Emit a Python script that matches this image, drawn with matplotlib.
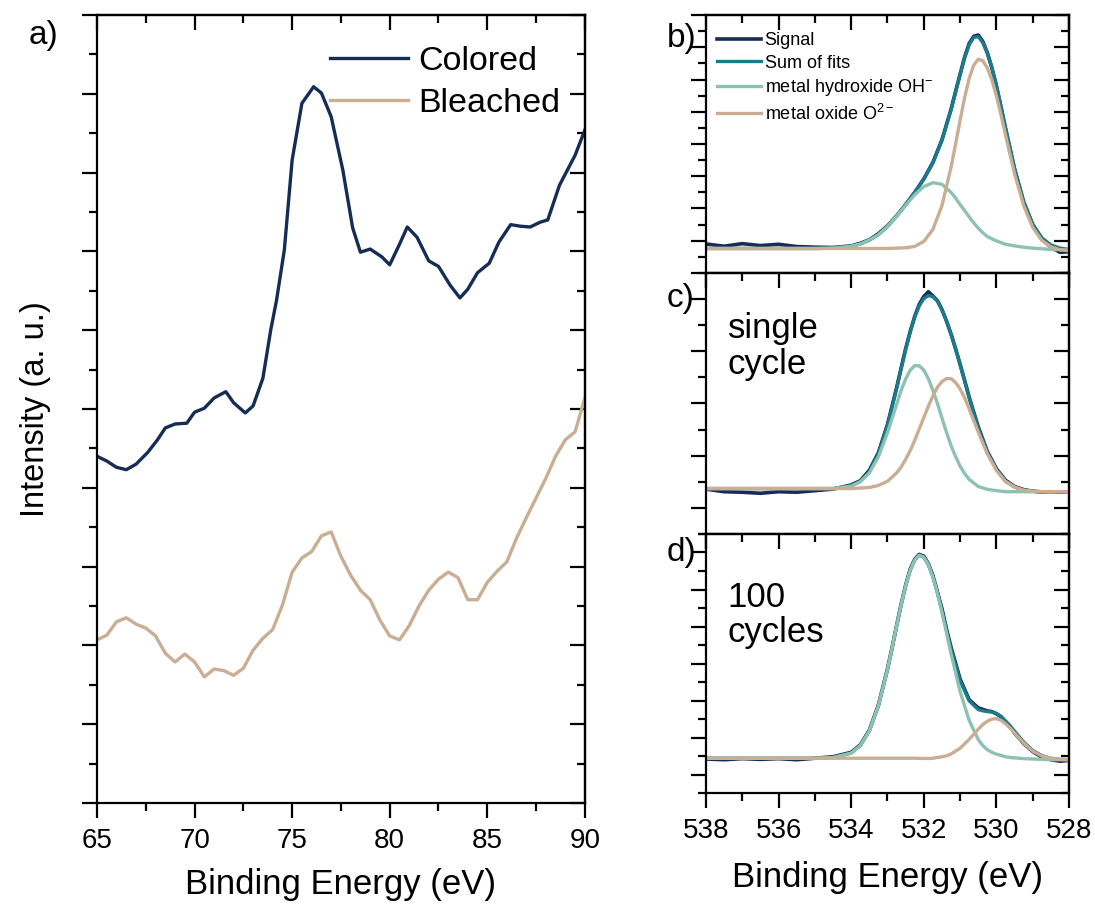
import numpy as np
import matplotlib.pyplot as plt
from matplotlib.ticker import MultipleLocator

plt.rcParams['font.family'] = ['Liberation Sans', 'DejaVu Sans']
plt.rcParams['mathtext.default'] = 'regular'

NAVY = '#152c57'
TEAL = '#1a7b8c'
SAGE = '#8dc2b0'
TAN = '#c9ae94'

# --- a) valence region, colored vs bleached ---
be_a = [65.0, 65.5, 66.0, 66.5, 67.0, 67.6, 68.1, 68.5, 69.0, 69.6, 70.0, 70.5, 71.0,
        71.6, 72.0, 72.6, 73.0, 73.5, 73.9, 74.2, 74.6, 75.0, 75.5, 76.1, 76.5, 77.0,
        77.6, 78.1, 78.5, 79.0, 79.6, 80.0, 80.5, 80.9, 81.4, 82.0, 82.5, 83.1, 83.6,
        84.0, 84.5, 85.1, 85.6, 86.2, 86.7, 87.2, 87.7, 88.1, 88.7, 89.5, 90.0]
colored = [4.40, 4.34, 4.26, 4.23, 4.30, 4.45, 4.61, 4.76, 4.81, 4.82, 4.96, 5.01, 5.14,
           5.22, 5.08, 4.95, 5.04, 5.39, 6.00, 6.38, 7.02, 8.16, 8.88, 9.09, 9.01, 8.71,
           8.03, 7.30, 6.99, 7.03, 6.93, 6.83, 7.09, 7.31, 7.18, 6.88, 6.81, 6.57, 6.41,
           6.52, 6.73, 6.85, 7.12, 7.34, 7.32, 7.31, 7.37, 7.40, 7.84, 8.22, 8.54]

be_bl = [65.0, 65.5, 66.0, 66.5, 67.0, 67.5, 68.0, 68.5, 69.0, 69.5, 70.0, 70.5, 71.0,
         71.5, 72.0, 72.5, 73.0, 73.5, 74.0, 74.5, 75.0, 75.5, 76.0, 76.5, 77.0, 77.5,
         78.0, 78.5, 79.0, 79.5, 80.0, 80.5, 81.0, 81.5, 82.0, 82.5, 83.0, 83.5, 84.0,
         84.5, 85.0, 85.5, 86.0, 86.5, 87.0, 87.5, 88.0, 88.5, 89.0, 89.5, 90.0]
bleached = [2.07, 2.13, 2.30, 2.35, 2.27, 2.22, 2.12, 1.90, 1.79, 1.89, 1.79, 1.60, 1.70,
            1.68, 1.62, 1.71, 1.94, 2.09, 2.20, 2.51, 2.93, 3.11, 3.19, 3.39, 3.44, 3.13,
            2.89, 2.70, 2.58, 2.32, 2.12, 2.07, 2.25, 2.50, 2.70, 2.84, 2.93, 2.86, 2.58,
            2.58, 2.80, 2.94, 3.06, 3.36, 3.62, 3.87, 4.12, 4.40, 4.61, 4.71, 5.14]

# --- b) O 1s, as deposited ---
be_b = [538, 537.5, 537, 536.5, 536, 535.5, 535, 534.5, 534, 533.75, 533.5, 533.25,
        533, 532.75, 532.5, 532.25, 532, 531.75, 531.5, 531.25, 531.125, 531, 530.875,
        530.75, 530.625, 530.5, 530.375, 530.25, 530.125, 530, 529.875, 529.75, 529.5,
        529.25, 529, 528.75, 528.5, 528.25, 528]
bg_b = ([0.76] * 15 + [0.755, 0.75, 0.74, 0.73, 0.72, 0.715, 0.71, 0.705, 0.70, 0.695,
                       0.69, 0.685, 0.68, 0.678, 0.675, 0.672] + [0.67] * 8)
oh_b = [0, 0, 0, 0, 0, 0, 0, 0.01, 0.07, 0.14, 0.26, 0.43, 0.68, 1.00, 1.34, 1.67,
        1.93, 2.06, 2.02, 1.78, 1.61, 1.41, 1.23, 1.04, 0.86, 0.70, 0.56, 0.45, 0.38,
        0.32, 0.27, 0.22, 0.17, 0.13, 0.10, 0.08, 0.06, 0.05, 0.04]
ox_b = [0] * 13 + [0.01, 0.02, 0.07, 0.23, 0.61, 1.36, 2.56, 3.28, 4.03, 4.74, 5.34,
                   5.75, 5.94, 5.90, 5.68, 5.31, 4.81, 4.23, 3.61, 2.40, 1.42, 0.74,
                   0.34, 0.14, 0.05, 0.02]
sig_b = [0.90, 0.83, 0.91, 0.85, 0.89, 0.82, 0.80, 0.79, 0.84, 0.92, 1.03, 1.22, 1.46,
         1.77, 2.12, 2.50, 2.92, 3.43, 4.13, 5.08, 5.63, 6.17, 6.70, 7.12, 7.34, 7.38,
         7.18, 6.83, 6.36, 5.80, 5.15, 4.48, 3.22, 2.20, 1.50, 1.06, 0.80, 0.64, 0.66]

# --- c) O 1s, single cycle ---
be_c = [538, 537.5, 537, 536.5, 536, 535.5, 535, 534.5, 534, 533.75, 533.5, 533.25,
        533, 532.75, 532.625, 532.5, 532.375, 532.25, 532.125, 532, 531.875, 531.75,
        531.625, 531.5, 531.375, 531.25, 531.125, 531, 530.875, 530.75, 530.5, 530.25,
        530, 529.75, 529.5, 529.25, 529, 528.75, 528.5, 528.25, 528]
bg_c = ([0.37] * 16 + [0.367, 0.365, 0.362, 0.36, 0.357, 0.355, 0.352, 0.35, 0.347,
                       0.345, 0.342, 0.34, 0.337, 0.335, 0.33, 0.325, 0.32] + [0.31] * 8)
oh_c = [0] * 8 + [0.05, 0.13, 0.30, 0.61, 1.07, 1.61, 1.88, 2.10, 2.27, 2.36, 2.36,
                  2.28, 2.12, 1.90, 1.65, 1.37, 1.10, 0.85, 0.64, 0.46, 0.32, 0.21,
                  0.08, 0.03, 0.01] + [0] * 8
ox_c = [0] * 9 + [0.01, 0.02, 0.06, 0.14, 0.30, 0.41, 0.56, 0.73, 0.93, 1.15, 1.37,
                  1.59, 1.79, 1.96, 2.07, 2.13, 2.13, 2.06, 1.94, 1.77, 1.56, 1.12,
                  0.71, 0.40, 0.20, 0.09, 0.03, 0.01, 0, 0, 0, 0]
sig_c = [0.36, 0.31, 0.30, 0.28, 0.31, 0.30, 0.33, 0.36, 0.44, 0.52, 0.72, 1.06, 1.60,
         2.30, 2.68, 3.05, 3.38, 3.67, 3.90, 4.05, 4.14, 4.06, 3.97, 3.80, 3.58, 3.33,
         3.05, 2.75, 2.44, 2.12, 1.55, 1.08, 0.75, 0.53, 0.41, 0.35, 0.32, 0.30, 0.31,
         0.30, 0.31]

# --- d) O 1s, 100 cycles ---
be_d = [538, 537.5, 537, 536.5, 536, 535.5, 535, 534.5, 534, 533.75, 533.5, 533.25,
        533, 532.875, 532.75, 532.625, 532.5, 532.375, 532.25, 532.125, 532, 531.875,
        531.75, 531.625, 531.5, 531.375, 531.25, 531, 530.75, 530.5, 530.375, 530.25,
        530.125, 530, 529.875, 529.75, 529.625, 529.5, 529.25, 529, 528.75, 528.5,
        528.25, 528]
bg_d = ([0.44] * 19 + [0.437, 0.435, 0.432, 0.43, 0.43, 0.43, 0.427, 0.425, 0.42, 0.42,
                       0.415, 0.412, 0.41, 0.41, 0.41, 0.405] + [0.40] * 9)
oh_d = [0] * 6 + [0, 0.02, 0.14, 0.34, 0.74, 1.42, 2.40, 2.97, 3.57, 4.14, 4.66, 5.08,
                  5.36, 5.49, 5.44, 5.24, 4.91, 4.47, 3.95, 3.40, 2.84, 1.82, 1.04,
                  0.53, 0.37, 0.26, 0.19, 0.14, 0.11, 0.08, 0.06, 0.05, 0.03, 0.02,
                  0.01, 0, 0, 0]
ox_d = [0] * 22 + [0.01, 0.03, 0.05, 0.08, 0.13, 0.29, 0.53, 0.81, 0.94, 1.03, 1.09,
                   1.10, 1.06, 0.97, 0.86, 0.72, 0.45, 0.23, 0.10, 0.04, 0.01, 0]
sig_d = [0.42, 0.40, 0.43, 0.41, 0.43, 0.40, 0.44, 0.48, 0.60, 0.80, 1.20, 1.88, 2.86,
         3.42, 4.02, 4.60, 5.12, 5.55, 5.82, 5.95, 5.90, 5.70, 5.38, 4.93, 4.48, 3.93,
         3.44, 2.58, 2.02, 1.80, 1.76, 1.72, 1.70, 1.64, 1.56, 1.42, 1.30, 1.12, 0.84,
         0.62, 0.47, 0.40, 0.36, 0.38]


def frame(ax, xmaj, xmin, ymaj, ymin):
    """Origin-style box: ticks out on left/bottom, in on top/right."""
    for sp in ax.spines.values():
        sp.set_linewidth(1.6)
    ax.xaxis.set_major_locator(MultipleLocator(xmaj))
    ax.xaxis.set_minor_locator(MultipleLocator(xmin))
    ax.yaxis.set_major_locator(MultipleLocator(ymaj))
    ax.yaxis.set_minor_locator(MultipleLocator(ymin))
    ax.tick_params(which='both', direction='out', width=1.6, labelsize=20, pad=7)
    ax.tick_params(which='major', length=11)
    ax.tick_params(which='minor', length=6)
    ax.tick_params(axis='y', labelleft=False)

    top = ax.secondary_xaxis('top')
    top.xaxis.set_major_locator(MultipleLocator(xmaj))
    top.xaxis.set_minor_locator(MultipleLocator(xmin))
    top.tick_params(which='both', direction='in', width=1.6, labeltop=False)
    top.tick_params(which='major', length=11)
    top.tick_params(which='minor', length=6)
    top.spines['top'].set_linewidth(1.6)

    right = ax.secondary_yaxis('right')
    right.yaxis.set_major_locator(MultipleLocator(ymaj))
    right.yaxis.set_minor_locator(MultipleLocator(ymin))
    right.tick_params(which='both', direction='in', width=1.6, labelright=False)
    right.tick_params(which='major', length=11)
    right.tick_params(which='minor', length=6)
    right.spines['right'].set_linewidth(1.6)


fig = plt.figure(figsize=(10.95, 9.06), dpi=100)

# panel a
ax_a = fig.add_axes([0.0886, 0.1137, 0.4455, 0.8697])
ax_a.plot(be_a, colored, color=NAVY, lw=2.4, label='Colored')
ax_a.plot(be_bl, bleached, color=TAN, lw=2.4, label='Bleached')
ax_a.set_xlim(65, 90)
ax_a.set_ylim(0, 10)
frame(ax_a, 5, 2.5, 1, 0.5)
ax_a.set_xlabel('Binding Energy (eV)', fontsize=25, labelpad=10)
ax_a.set_ylabel('Intensity (a. u.)', fontsize=23.5, labelpad=20)
ax_a.legend(loc='upper right', bbox_to_anchor=(1.012, 1.0), frameon=False,
            fontsize=24.5, handlelength=2.3, handletextpad=0.3, labelspacing=0.32)

# panels b-d share the O 1s axis
panels = [
    (0.6987, 0.2847, (0, 8), be_b, bg_b, oh_b, ox_b, sig_b),
    (0.4106, 0.2881, (-0.5, 4.5), be_c, bg_c, oh_c, ox_c, sig_c),
    (0.1247, 0.2859, (-0.5, 6.5), be_d, bg_d, oh_d, ox_d, sig_d),
]
axes = []
for bottom, height, ylim, be, bg, oh, ox, sig in panels:
    ax = fig.add_axes([0.6447, bottom, 0.3316, height])
    bg = np.array(bg)
    oh = np.array(oh)
    ox = np.array(ox)
    ax.plot(be, sig, color=NAVY, lw=2.6, label='Signal')
    ax.plot(be, bg + oh + ox, color=TEAL, lw=2.4, label='Sum of fits')
    ax.plot(be, bg + oh, color=SAGE, lw=2.4, label='metal hydroxide OH$^{-}$')
    ax.plot(be, bg + ox, color=TAN, lw=2.4, label='metal oxide O$^{2-}$')
    ax.set_xlim(538, 528)
    ax.set_ylim(*ylim)
    frame(ax, 2, 1, 1, 0.5)
    axes.append(ax)

ax_b, ax_c, ax_d = axes
ax_b.tick_params(axis='x', labelbottom=False)
ax_c.tick_params(axis='x', labelbottom=False)
ax_d.set_xlabel('Binding Energy (eV)', fontsize=25, labelpad=12)
ax_b.legend(loc='upper left', bbox_to_anchor=(0.0, 0.975), frameon=False,
            fontsize=13, handlelength=2.45, handletextpad=0.2, labelspacing=0.3,
            borderaxespad=0.2)

ax_c.text(0.06, 0.85, 'single\ncycle', transform=ax_c.transAxes, fontsize=25,
          va='top', linespacing=1.1)
ax_d.text(0.06, 0.82, '100\ncycles', transform=ax_d.transAxes, fontsize=25,
          va='top', linespacing=1.1)

fig.text(0.026, 0.978, 'a)', fontsize=24, va='top')
fig.text(0.609, 0.975, 'b)', fontsize=24, va='top')
fig.text(0.609, 0.688, 'c)', fontsize=24, va='top')
fig.text(0.609, 0.407, 'd)', fontsize=24, va='top')

fig.savefig('out.png', dpi=100)
